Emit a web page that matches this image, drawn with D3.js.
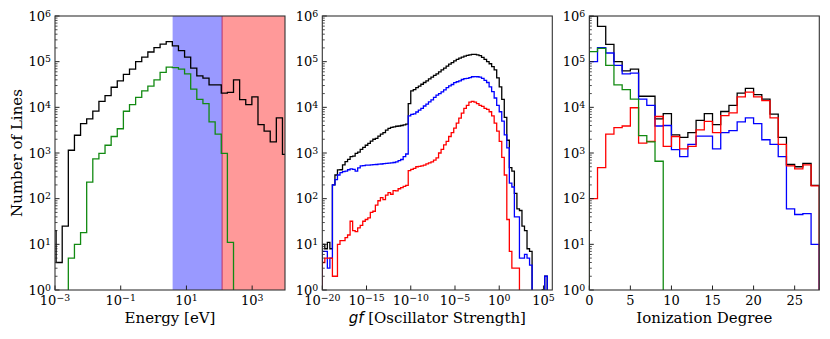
<!DOCTYPE html>
<html>
<head>
<meta charset="utf-8">
<script src="https://cdn.jsdelivr.net/npm/d3@7"></script>
<style>
  body { margin: 0; background: #fff; }
  text { font-family: "DejaVu Serif", serif; fill: #000; }
</style>
</head>
<body>
<div id="chart"></div>
<script>
// ---- panel 1: energy histogram (log10 bins) ----
const energyBinStart = -3.153;   // log10(eV) of first bin edge
const energyBinWidth = 0.1862;   // decades per bin
const energyTotal = [20, 4, 25, 1150, 2450, 4400, 5600, 8300, 13500, 18000, 27500, 38000, 52500,
  69000, 100000, 126000, 163000, 204000, 242000, 275000, 222000, 174000, 126000, 72000, 49000,
  43500, 31000, 31000, 20500, 21300, 40000, 14800, 11500, 17000, 4200, 3000, 1750, 5900, 930];
const energyGreen = [0, 0, 0, 5, 10, 18, 230, 740, 980, 1480, 2300, 3400, 8200, 11500, 16600,
  23000, 29000, 40000, 58000, 76000, 74000, 69000, 54000, 25000, 15000, 12000, 4800, 2600, 980,
  11, 0, 0, 0, 0, 0, 0, 0, 0, 0];
const bandEdges = [3.8, 122, 1e4];   // eV: blue band, red band

// ---- panel 2: oscillator strength histogram ----
const gfBinLo = -20, gfBinHi = 6;   // log10 range of the 91 bins
const gfTotal = [10, 8, 11, 8, 200, 330, 425, 430, 550, 645, 725, 830, 850, 980, 1050, 1200, 1330,
  1480, 1620, 1820, 2000, 2100, 2350, 2600, 2800, 3180, 3450, 3640, 3750, 3850, 3900, 4000, 4150,
  4300, 12000, 23000, 24500, 27000, 29000, 32000, 35000, 38000, 42000, 46000, 50000, 54000, 60000,
  66000, 72000, 80000, 88000, 95000, 104000, 112000, 120000, 126000, 132000, 137000, 141000,
  145000, 145000, 141000, 135000, 124000, 112000, 100000, 90000, 78000, 66000, 44000, 28000,
  15000, 6000, 1900, 480, 400, 130, 60, 55, 25, 20, 8, 7, 0, 0, 0, 0, 1, 2, 0, 0];
const gfBlue = [7, 7, 3, 5, 200, 260, 330, 370, 390, 400, 430, 450, 440, 400, 470, 520, 530, 540,
  545, 550, 555, 560, 570, 575, 585, 590, 600, 610, 620, 640, 680, 720, 830, 950, 6500, 7000, 7200,
  7900, 8700, 9500, 10700, 11700, 13200, 14500, 16600, 18600, 20000, 21900, 24000, 27000, 29500,
  31600, 34700, 36300, 38000, 40700, 42500, 43000, 44700, 46700, 47000, 46700, 46000, 43000,
  39000, 35000, 28000, 22000, 16000, 11000, 8000, 5000, 2500, 1300, 220, 180, 40, 40, 5, 5, 6, 5,
  3.5, 0, 0, 0, 0, 0, 2, 0, 0];
const gfRed = [4, 5, 5, 5, 2, 2, 10, 12, 12, 14, 16, 32, 20, 19, 23, 26, 32, 35, 38, 50, 53, 72, 90,
  105, 95, 120, 135, 125, 150, 148, 165, 175, 185, 195, 410, 440, 460, 500, 510, 520, 540, 580,
  610, 640, 700, 780, 1000, 1200, 1500, 1800, 2300, 2800, 3500, 4500, 5800, 7500, 9500, 11000,
  13000, 13500, 13000, 12000, 11000, 10500, 9500, 9000, 8000, 6500, 4500, 3000, 1800, 800, 330,
  35, 7, 3, 3, 3, 0, 0, 0, 0, 0, 0, 0, 0, 0, 0, 0, 0, 0];

// ---- panel 3: ionization degree (integer bins 0..27) ----
const ionTotal = [1.0e6, 590000, 240000, 100000, 63000, 69000, 17500, 17500, 5600, 7300, 2500,
  2200, 2800, 5200, 7300, 4200, 8100, 11000, 20500, 26000, 19000, 15200, 7100, 2200, 560, 500,
  590, 195];
const ionBlue = [100000, 204000, 155000, 83000, 54000, 56000, 15200, 11000, 3900, 4000, 1180, 830,
  1550, 2350, 2350, 1230, 2800, 3100, 4800, 5900, 4400, 1950, 1550, 830, 60, 45, 47, 10];
const ionRed = [100, 480, 2600, 3600, 3900, 9800, 1650, 1800, 6300, 1400, 2300, 1230, 1400, 3200,
  4950, 2800, 6600, 7600, 17000, 21500, 17000, 14000, 5900, 1550, 520, 450, 550, 190];
const ionGreen = [166000, 196000, 83000, 31000, 24500, 15200, 2400, 1750, 660, 0, 0, 0, 0, 0, 0, 0,
  0, 0, 0, 0, 0, 0, 0, 0, 0, 0, 0, 0];

const yTickExps = [0, 1, 2, 3, 4, 5, 6];

// ---- layout ----
const W = 830, H = 339;
const plotTop = 16, plotH = 274, plotW = 230;
const panelLeft = [55, 322.3, 589.3];

const svg = d3.select("#chart").append("svg")
  .attr("width", W).attr("height", H);

const y = d3.scaleLog().domain([1, 1e6]).range([plotTop + plotH, plotTop]);

// superscript power-of-ten label
function powLabel(sel, e) {
  sel.append("tspan").text("10");
  sel.append("tspan").attr("dy", "-0.42em").style("font-size", "0.72em")
    .text(e < 0 ? "\u2212" + (-e) : String(e));
}

// step outline like matplotlib histtype="step"
function stepPath(edges, counts, x) {
  const floor = 1e-3;
  const pts = [[x(edges[0]), y(floor)]];
  counts.forEach((c, i) => {
    const yy = y(Math.max(c, floor));
    pts.push([x(edges[i]), yy], [x(edges[i + 1]), yy]);
  });
  pts.push([x(edges[edges.length - 1]), y(floor)]);
  return d3.line()(pts);
}

function makePanel(i, x) {
  const x0 = panelLeft[i];
  const g = svg.append("g");
  const clipId = "clip" + i;
  svg.append("clipPath").attr("id", clipId).append("rect")
    .attr("x", x0).attr("y", plotTop).attr("width", plotW).attr("height", plotH);
  const plot = g.append("g").attr("clip-path", `url(#${clipId})`);
  return { g, plot, x0 };
}

function drawFrame(p, xTicks, xLabelFn, isLog) {
  const { g, x0 } = p;
  const bottom = plotTop + plotH;
  // y ticks
  yTickExps.forEach(e => {
    const yy = y(Math.pow(10, e));
    g.append("line").attr("x1", x0).attr("x2", x0 + 4.5).attr("y1", yy).attr("y2", yy)
      .attr("stroke", "#222").attr("stroke-width", 1);
    const t = g.append("text").attr("x", x0 - 4).attr("y", yy).attr("dy", "0.36em")
      .attr("text-anchor", "end").style("font-size", "13px");
    powLabel(t, e);
    if (e < 6) {
      for (let m = 2; m <= 9; m++) {
        const ym = y(m * Math.pow(10, e));
        g.append("line").attr("x1", x0).attr("x2", x0 + 2.5).attr("y1", ym).attr("y2", ym)
          .attr("stroke", "#222").attr("stroke-width", 0.8);
      }
    }
  });
  // x ticks
  xTicks.forEach(v => {
    const xx = p.x(v);
    g.append("line").attr("x1", xx).attr("x2", xx).attr("y1", bottom).attr("y2", bottom - 4.5)
      .attr("stroke", "#222").attr("stroke-width", 1);
    const t = g.append("text").attr("x", xx).attr("y", 305)
      .attr("text-anchor", "middle").style("font-size", "13px");
    xLabelFn(t, v);
  });
  // frame
  g.append("rect").attr("x", x0).attr("y", plotTop).attr("width", plotW).attr("height", plotH)
    .attr("fill", "none").attr("stroke", "#333").attr("stroke-width", 1.1);
}

function drawSeries(p, edges, counts, color) {
  p.plot.append("path")
    .attr("d", stepPath(edges, counts, p.x))
    .attr("fill", "none").attr("stroke", color).attr("stroke-width", 1.3)
    .attr("stroke-linejoin", "miter");
}

// ---------- panel 1 ----------
const xE = d3.scaleLog().domain([1e-3, 1e4]).range([panelLeft[0], panelLeft[0] + plotW]);
const p1 = makePanel(0, xE); p1.x = xE;
const eEdges = d3.range(energyTotal.length + 1).map(k => Math.pow(10, energyBinStart + k * energyBinWidth));
p1.plot.append("rect").attr("x", xE(bandEdges[0])).attr("y", plotTop)
  .attr("width", xE(bandEdges[1]) - xE(bandEdges[0])).attr("height", plotH)
  .attr("fill", "#9999ff");
p1.plot.append("rect").attr("x", xE(bandEdges[1])).attr("y", plotTop)
  .attr("width", xE(bandEdges[2]) - xE(bandEdges[1])).attr("height", plotH)
  .attr("fill", "#ff9999");
p1.plot.append("line").attr("x1", xE(bandEdges[1])).attr("x2", xE(bandEdges[1]))
  .attr("y1", plotTop).attr("y2", plotTop + plotH).attr("stroke", "#b8306a").attr("stroke-width", 1);
drawSeries(p1, eEdges, energyTotal, "#000");
drawSeries(p1, eEdges, energyGreen, "#128a12");
drawFrame(p1, [1e-3, 1e-1, 1e1, 1e3], (t, v) => powLabel(t, Math.round(Math.log10(v))));

// ---------- panel 2 ----------
const xG = d3.scaleLog().domain([1e-20, 1e6]).range([panelLeft[1], panelLeft[1] + plotW]);
const p2 = makePanel(1, xG); p2.x = xG;
const gEdges = d3.range(gfTotal.length + 1)
  .map(k => Math.pow(10, gfBinLo + k * (gfBinHi - gfBinLo) / gfTotal.length));
drawSeries(p2, gEdges, gfTotal, "#000");
drawSeries(p2, gEdges, gfBlue, "#0000ff");
drawSeries(p2, gEdges, gfRed, "#ff0000");
drawFrame(p2, [1e-20, 1e-15, 1e-10, 1e-5, 1e0, 1e5], (t, v) => powLabel(t, Math.round(Math.log10(v))));

// ---------- panel 3 ----------
const xI = d3.scaleLinear().domain([0, 28]).range([panelLeft[2], panelLeft[2] + plotW]);
const p3 = makePanel(2, xI); p3.x = xI;
const iEdges = d3.range(ionTotal.length + 1);
drawSeries(p3, iEdges, ionTotal, "#000");
drawSeries(p3, iEdges, ionBlue, "#0000ff");
drawSeries(p3, iEdges, ionRed, "#ff0000");
drawSeries(p3, iEdges, ionGreen, "#128a12");
drawFrame(p3, [0, 5, 10, 15, 20, 25], (t, v) => t.text(v));

// ---------- axis labels ----------
svg.append("text").attr("x", panelLeft[0] + plotW / 2).attr("y", 323)
  .attr("text-anchor", "middle").style("font-size", "15px").text("Energy [eV]");
const gl = svg.append("text").attr("x", panelLeft[1] + plotW / 2).attr("y", 323)
  .attr("text-anchor", "middle").style("font-size", "15px");
gl.append("tspan").style("font-family", "'DejaVu Sans', sans-serif").style("font-style", "italic").text("gf");
gl.append("tspan").text(" [Oscillator Strength]");
svg.append("text").attr("x", panelLeft[2] + plotW / 2).attr("y", 323)
  .attr("text-anchor", "middle").style("font-size", "15px").text("Ionization Degree");
svg.append("text")
  .attr("transform", `translate(22,${plotTop + plotH / 2}) rotate(-90)`)
  .attr("text-anchor", "middle").style("font-size", "15px").text("Number of Lines");
</script>
</body>
</html>
